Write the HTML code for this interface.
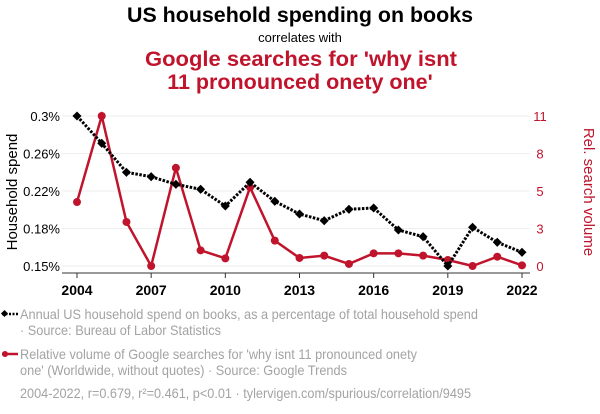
<!DOCTYPE html>
<html><head><meta charset="utf-8"><style>
body{margin:0;background:#fff;font-family:"Liberation Sans",sans-serif;}
svg{display:block}
</style></head><body>
<svg id="chart" width="600" height="414" viewBox="0 0 600 414" font-family="Liberation Sans, sans-serif">
<text x="127" y="22" textLength="346" lengthAdjust="spacingAndGlyphs" font-size="21" font-weight="bold" fill="#000">US household spending on books</text>
<text x="300" y="42" text-anchor="middle" font-size="13" fill="#000">correlates with</text>
<text x="145" y="66" textLength="312" lengthAdjust="spacingAndGlyphs" font-size="21.5" font-weight="bold" fill="#c0142d">Google searches for 'why isnt</text>
<text x="300" y="89" text-anchor="middle" font-size="21.5" font-weight="bold" fill="#c0142d">11 pronounced onety one'</text>
<g id="grid"></g>
<g id="axes"></g>
<g id="series"></g>
<text transform="translate(17,192) rotate(-90)" text-anchor="middle" font-size="15" fill="#000">Household spend</text>
<text transform="translate(584,192) rotate(90)" text-anchor="middle" font-size="15" fill="#c0142d">Rel. search volume</text>
<g>
<line x1="2" y1="314" x2="18" y2="314" stroke="#000" stroke-width="2.5" stroke-dasharray="2,1.5"/>
<rect x="2" y="311" width="5" height="5" transform="rotate(45 4.5 313.5)" fill="#000"/>
<text x="20" y="319" font-size="14" fill="#a3a3a3" textLength="458" lengthAdjust="spacingAndGlyphs">Annual US household spend on books, as a percentage of total household spend</text>
<text x="20" y="335" font-size="14" fill="#a3a3a3" textLength="201" lengthAdjust="spacingAndGlyphs">· Source: Bureau of Labor Statistics</text>
</g>
<g>
<line x1="2" y1="354" x2="18" y2="354" stroke="#c0142d" stroke-width="2.5"/>
<circle cx="5" cy="354" r="3" fill="#c0142d"/>
<text x="20" y="359" font-size="14" fill="#a3a3a3" textLength="397" lengthAdjust="spacingAndGlyphs">Relative volume of Google searches for 'why isnt 11 pronounced onety</text>
<text x="20" y="375" font-size="14" fill="#a3a3a3" textLength="327" lengthAdjust="spacingAndGlyphs">one' (Worldwide, without quotes) · Source: Google Trends</text>
</g>
<text x="20" y="398" font-size="14" fill="#a3a3a3" textLength="451" lengthAdjust="spacingAndGlyphs">2004-2022, r=0.679, r²=0.461, p&lt;0.01 · tylervigen.com/spurious/correlation/9495</text>
</svg>
<script>
const years=[2004,2005,2006,2007,2008,2009,2010,2011,2012,2013,2014,2015,2016,2017,2018,2019,2020,2021,2022];
const spend=[0.300,0.2727,0.2437,0.2393,0.2317,0.2267,0.210,0.2337,0.2147,0.202,0.1953,0.2067,0.208,0.186,0.1793,0.150,0.1887,0.1737,0.1637];
const searches=[4.69,11,3.23,0,7.2,1.15,0.56,5.77,1.86,0.59,0.76,0.15,0.93,0.93,0.76,0.44,0,0.68,0.05];
const leftTicks=[0.15,0.1875,0.225,0.2625,0.30];
const leftTickLabels=["0.15%","0.18%","0.22%","0.26%","0.3%"];
const rightTicks=[0,2.75,5.5,8.25,11];
const rightTickLabels=["0","3","5","8","11"];
const xTicks=[2004,2007,2010,2013,2016,2019,2022];
const NS="http://www.w3.org/2000/svg";
const x=v=>77+(v-2004)*(445/18);
const yL=v=>266-(v-0.15)/0.15*150;
const yR=v=>266-v/11*150;
function mk(tag,attrs,parent){const e=document.createElementNS(NS,tag);for(const k in attrs)e.setAttribute(k,attrs[k]);parent.appendChild(e);return e;}
const grid=document.getElementById('grid'),axes=document.getElementById('axes'),series=document.getElementById('series');
leftTicks.forEach((t,i)=>{
  const g=mk('line',{x1:62,x2:530,y1:yL(t),y2:yL(t),stroke:'#eeeeee','stroke-width':1},grid);
  
  
  const tx=mk('text',{x:60,y:yL(t)+5,'text-anchor':'end','font-size':13,fill:'#000'},axes);
  tx.textContent=leftTickLabels[i];
  
  
});
rightTicks.forEach((t,i)=>{
  const tx=mk('text',{x:540,y:yR(t)+5,'text-anchor':'middle','font-size':13,fill:'#c0142d'},axes);
  tx.textContent=rightTickLabels[i];
  
  
});
const ax=mk('line',{x1:62,x2:530,y1:273,y2:273,stroke:'#333','stroke-width':1},axes);


xTicks.forEach(t=>{
  mk('line',{x1:x(t),x2:x(t),y1:273,y2:278,stroke:'#333'},axes);
  const tx=mk('text',{x:x(t),y:295,'text-anchor':'middle','font-size':14,'font-weight':'bold',fill:'#000'},axes);
  tx.textContent=t;
  
  
});
const rp=mk('polyline',{points:years.map((yr,i)=>x(yr)+','+yR(searches[i])).join(' '),fill:'none',stroke:'#c0142d','stroke-width':2.5},series);


years.forEach((yr,i)=>{
  const c=mk('circle',{cx:x(yr),cy:yR(searches[i]),r:4,fill:'#c0142d'},series);
  
  
});
const bp=mk('polyline',{points:years.map((yr,i)=>x(yr)+','+yL(spend[i])).join(' '),fill:'none',stroke:'#000','stroke-width':3,'stroke-dasharray':'2.5,1.5'},series);


years.forEach((yr,i)=>{
  const cx=x(yr),cy=yL(spend[i]);
  const d=mk('rect',{x:cx-3.2,y:cy-3.2,width:6.4,height:6.4,fill:'#000',transform:`rotate(45 ${cx} ${cy})`},series);
  
  
});
</script>
</body></html>
